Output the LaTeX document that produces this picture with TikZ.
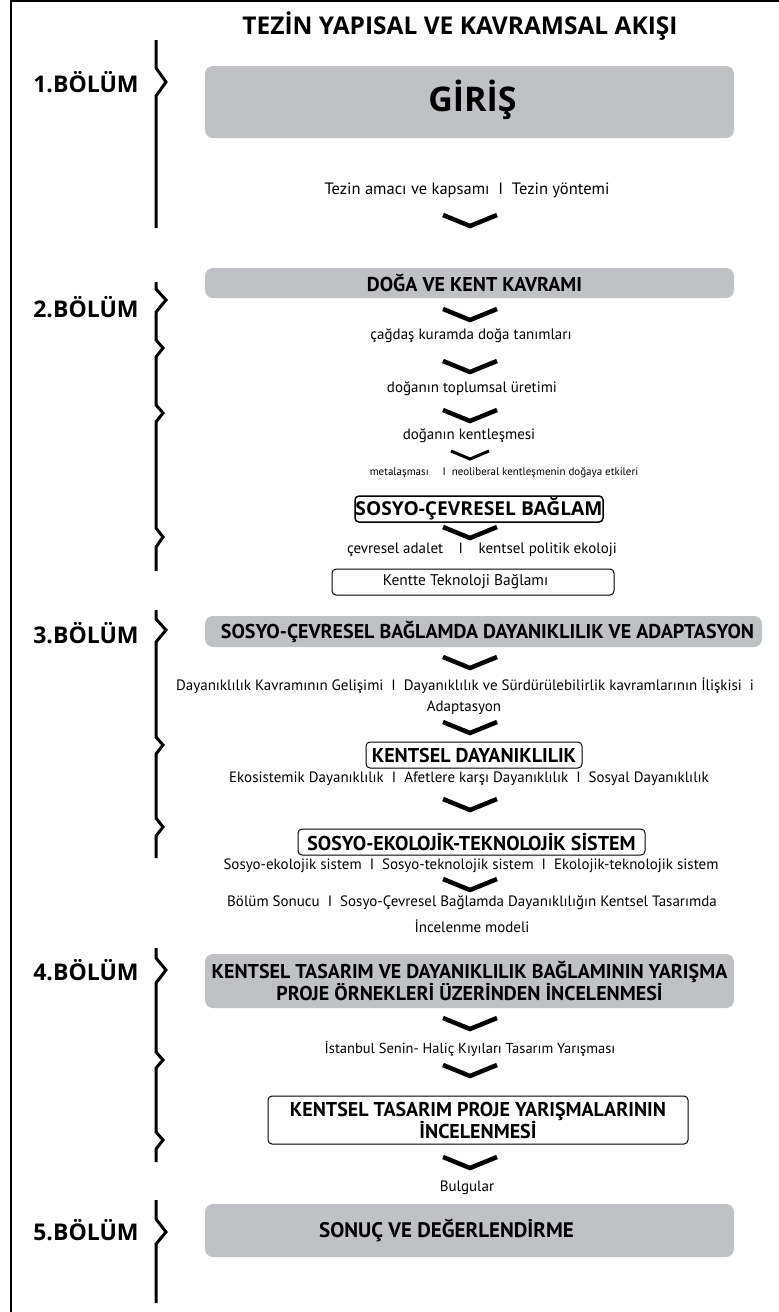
\documentclass[tikz,border=0pt]{standalone}
\usepackage{fontspec}
\setmainfont{PT Sans}
\newfontfamily\headfont{Open Sans}
\usetikzlibrary{calc}

\definecolor{boxgray}{RGB}{191,193,197}

\begin{document}
\begin{tikzpicture}[x=1pt,y=-1pt,
  every node/.style={inner sep=0pt, outer sep=0pt},
  frame/.style={line width=2pt},
  brace/.style={line width=3pt, line join=miter},
  chapter/.style={font=\headfont\bfseries\fontsize{23}{23}\selectfont},
  graybox/.style={fill=boxgray, rounded corners=8pt, align=center,
    minimum width=529pt, font=\bfseries\fontsize{20}{22}\selectfont},
  whitebox/.style={draw, fill=white, rounded corners=4pt, line width=1pt,
    align=center, font=\bfseries\fontsize{20}{22}\selectfont},
  boldtext/.style={font=\bfseries\fontsize{20}{22}\selectfont},
  note/.style={font=\fontsize{15}{18}\selectfont},
  chevline/.style={line width=4.5pt, line join=miter},
  chev/.pic={\draw[chevline] (-27,0) -- (0,11) -- (27,0);},
  smallchev/.pic={\draw[line width=3pt, line join=miter] (-19,0) -- (0,8) -- (19,0);}
]
\useasboundingbox (0,0) rectangle (779,1312);

% outer frame (left and top edges)
\draw[frame] (11,1312) -- (11,1) -- (779,1);

% title
\node[font=\headfont\bfseries\fontsize{24.5}{25}\selectfont] (title) at (460,26)
  {TEZİN YAPISAL VE KAVRAMSAL AKIŞI};

% chapter labels
\node[chapter] (ch1) at (86,82)   {1.BÖLÜM};
\node[chapter] (ch2) at (86,307)  {2.BÖLÜM};
\node[chapter] (ch3) at (86,633)  {3.BÖLÜM};
\node[chapter] (ch4) at (86,970)  {4.BÖLÜM};
\node[chapter] (ch5) at (86,1230) {5.BÖLÜM};

% chapter braces
\draw[brace] (156,40) -- (156,68) -- (166,82) -- (156,96) -- (156,228);
\draw[brace] (156,282) -- (156,289) -- (166,300) -- (156,312)
  -- (156,340) -- (163,348) -- (156,357)
  -- (156,405) -- (163,413) -- (156,422)
  -- (156,528) -- (163,537) -- (156,547) -- (156,571);
\draw[brace] (156,610) -- (156,619) -- (166,630) -- (156,642)
  -- (156,737) -- (163,745) -- (156,754)
  -- (156,818) -- (163,827) -- (156,836) -- (156,858);
\draw[brace] (156,948) -- (156,958) -- (166,970) -- (156,983)
  -- (156,1052) -- (163,1060) -- (156,1068)
  -- (156,1132) -- (163,1140) -- (156,1149) -- (156,1162);
\draw[brace] (156,1200) -- (156,1219) -- (166,1232) -- (156,1244) -- (156,1303);

% chapter 1
\node[graybox, minimum height=72pt] (giris) at (469.5,102) {};
\node[font=\headfont\bfseries\fontsize{34}{36}\selectfont] (girist) at (472.5,100) {GİRİŞ};
\node[note, font=\fontsize{16.5}{18}\selectfont] (t1) at (467,190)
  {Tezin amacı ve kapsamı \ I \ Tezin yöntemi};
\pic at (470,215) {chev};

% chapter 2
\node[graybox, minimum height=30pt] (doga) at (469.5,283) {};
\node[boldtext] (dogat) at (474.5,283) {DOĞA VE KENT KAVRAMI};
\pic at (470,309) {chev};
\node[note] (t2) at (471,336) {çağdaş kuramda doğa tanımları};
\pic at (470,361) {chev};
\node[note] (t3) at (472,389) {doğanın toplumsal üretimi};
\pic at (470,410) {chev};
\node[note] (t4) at (469,436) {doğanın kentleşmesi};
\pic at (470,451) {smallchev};
\node[font=\fontsize{11}{13}\selectfont] (t5) at (504,473)
  {metalaşması \quad I \ neoliberal kentleşmenin doğaya etkileri};
\node[whitebox, line width=1.5pt, minimum width=248pt, minimum height=26pt,
  font=\headfont\bfseries\fontsize{19.2}{20}\selectfont]
  (sosyoc) at (479,509) {SOSYO-ÇEVRESEL BAĞLAM};
\pic at (470,527) {chev};
\node[note] (t6) at (482,550) {çevresel adalet \enspace\ I \enspace\ kentsel politik ekoloji};
\node[whitebox, minimum width=282pt, minimum height=26pt] (kentte) at (473,582) {};
\node[font=\fontsize{15.5}{18}\selectfont] (kenttet) at (465.5,582) {Kentte Teknoloji Bağlamı};

% chapter 3
\node[graybox, minimum width=557pt, minimum height=31pt] (sosyo3) at (483.5,631.5) {};
\node[boldtext] (sosyo3t) at (487.5,632)
  {SOSYO-ÇEVRESEL BAĞLAMDA DAYANIKLILIK VE ADAPTASYON};
\pic at (470,657) {chev};
\node[note] (t7) at (465,686)
  {Dayanıklılık Kavramının Gelişimi \ I \ Dayanıklılık ve Sürdürülebilirlik kavramlarının İlişkisi \ i};
\node[note] (t8) at (464,708) {Adaptasyon};
\pic at (470,722) {chev};
\node[whitebox, minimum width=216pt, minimum height=26pt] (kentsel) at (474,755)
  {KENTSEL DAYANIKLILIK};
\node[note] (t9) at (469,779)
  {Ekosistemik Dayanıklılık \ I \ Afetlere karşı Dayanıklılık \ I \ Sosyal Dayanıklılık};
\pic at (470,799) {chev};
\node[whitebox, minimum width=347pt, minimum height=26pt] (set) at (471.5,842)
  {SOSYO-EKOLOJİK-TEKNOLOJİK SİSTEM};
\node[note] (t10) at (471,866)
  {Sosyo-ekolojik sistem \ I \ Sosyo-teknolojik sistem \ I \ Ekolojik-teknolojik sistem};
\pic at (470,879) {chev};
\node[note] (t11) at (472,903)
  {Bölüm Sonucu \ I \ Sosyo-Çevresel Bağlamda Dayanıklılığın Kentsel Tasarımda};
\node[note] (t12) at (472,926) {İncelenme modeli};

% chapter 4
\node[graybox, minimum height=54pt] (kt4) at (469.5,981)
  {KENTSEL TASARIM VE DAYANIKLILIK BAĞLAMININ YARIŞMA\\PROJE ÖRNEKLERİ ÜZERİNDEN İNCELENMESİ};
\pic at (470,1018) {chev};
\node[note, font=\fontsize{14.5}{18}\selectfont] (t13) at (470,1049)
  {İstanbul Senin- Haliç Kıyıları Tasarım Yarışması};
\pic at (470,1065) {chev};
\node[whitebox, minimum width=420pt, minimum height=48pt] (ktp) at (478,1120)
  {KENTSEL TASARIM PROJE YARIŞMALARININ\\İNCELENMESİ};
\pic at (470,1157) {chev};
\node[note] (t14) at (467,1188) {Bulgular};

% chapter 5
\node[graybox, minimum height=53pt] (sonuc) at (469.5,1230.5) {};
\node[font=\bfseries\fontsize{21}{22}\selectfont] (sonuct) at (446.5,1231)
  {SONUÇ VE DEĞERLENDİRME};
\end{tikzpicture}
\end{document}
